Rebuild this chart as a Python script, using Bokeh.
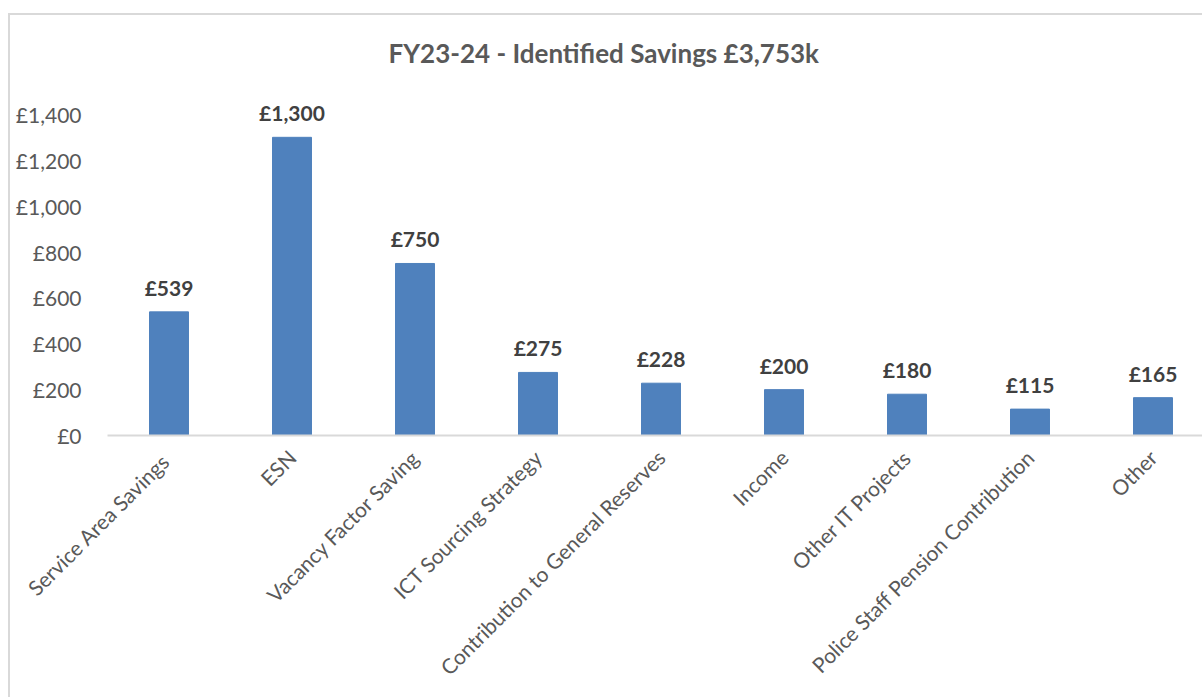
from bokeh.plotting import figure
from bokeh.models import ColumnDataSource, Range1d, FixedTicker
from bokeh.core.properties import value
from bokeh.embed import file_html
from bokeh.resources import INLINE

categories = ["Service Area  Savings", "ESN", "Vacancy Factor Saving", "ICT Sourcing Strategy",
              "Contribution to General Reserves", "Income", "Other IT Projects",
              "Police Staff Pension Contribution", "Other"]
savings = [539, 1300, 750, 275, 228, 200, 180, 115, 165]
y_ticks = [0, 200, 400, 600, 800, 1000, 1200, 1400]
title_text = "FY23-24 - Identified Savings £3,753k"

FONT = "Lato"
GREY = "#595959"

pos = list(range(len(categories)))
src = ColumnDataSource(dict(x=pos, top=savings, lab=["£{:,}".format(v) for v in savings]))

p = figure(width=1194, height=684, output_backend="svg", toolbar_location=None,
           x_range=Range1d(-0.5, -0.5 + 1097 / 123), y_range=Range1d(0, 1600),
           min_border_left=97, min_border_right=0, min_border_top=53, min_border_bottom=264,
           title=title_text)
p.margin = (13, 0, 0, 8)
p.styles = {"border-left": "2px solid #d9d9d9", "border-top": "2px solid #d9d9d9"}

p.title.align = "left"
p.title.offset = 281
p.title.standoff = 0
p.title.text_font = FONT
p.title.text_font_size = "26px"
p.title.text_font_style = "bold"
p.title.text_color = GREY

p.vbar(x="x", top="top", width=0.317, source=src, color="#4f81bd")
p.text(x="x", y="top", text="lab", source=src, text_align="center", text_baseline="bottom",
       y_offset=-12, text_font=value(FONT), text_font_size="21px", text_font_style="bold",
       text_color="#404040")

p.xgrid.visible = False
p.ygrid.visible = False
p.outline_line_color = None

xa = p.xaxis[0]
xa.ticker = FixedTicker(ticks=pos)
xa.major_label_overrides = {i: c for i, c in zip(pos, categories)}
xa.major_label_orientation = 0.785398
xa.major_label_text_font = FONT
xa.major_label_text_font_size = "21px"
xa.major_label_text_color = GREY
xa.major_tick_line_color = None
xa.minor_tick_line_color = None
xa.axis_line_color = "#d9d9d9"
xa.axis_line_width = 2
xa.major_label_standoff = 12

ya = p.yaxis[0]
ya.ticker = FixedTicker(ticks=y_ticks)
ya.major_label_overrides = {t: "£{:,}".format(t) for t in y_ticks}
ya.major_label_text_font = FONT
ya.major_label_text_font_size = "21px"
ya.major_label_text_color = GREY
ya.major_tick_line_color = None
ya.minor_tick_line_color = None
ya.axis_line_color = None
ya.major_label_standoff = 20

open("out.html", "w").write(file_html(p, INLINE))
